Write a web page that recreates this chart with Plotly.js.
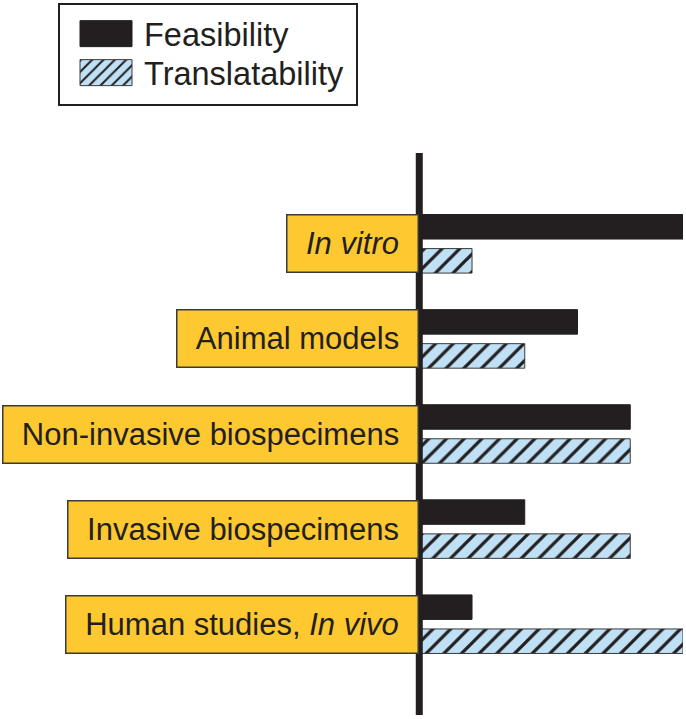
<!DOCTYPE html>
<html>
<head>
<meta charset="utf-8">
<script src="https://cdn.plot.ly/plotly-3.0.1.min.js"></script>
<style>html,body{margin:0;padding:0;background:#fff}</style>
</head>
<body>
<div id="chart" style="width:686px;height:719px"></div>
<script>
// data (relative scale, 0-5)
const categories = ['In vitro', 'Animal models', 'Non-invasive biospecimens', 'Invasive biospecimens', 'Human studies, In vivo'];
const labels = ['<i>In vitro</i>', 'Animal models', 'Non-invasive biospecimens', 'Invasive biospecimens', 'Human studies, <i>In vivo</i>'];
const feasibility = [5, 3, 4, 2, 1];
const translatability = [1, 2, 4, 4, 5];

const FONT = 'Liberation Sans, Arial, sans-serif';
const INK = '#231f20';
const LABEL_SIZE = 31;

// width of the label box = text width + side padding
const ctx = document.createElement('canvas').getContext('2d');
function labelWidth(html) {
    let w = 0;
    html.split(/(<i>.*?<\/i>)/).forEach(part => {
        if (!part) return;
        const italic = part.startsWith('<i>');
        ctx.font = (italic ? 'italic ' : '') + LABEL_SIZE + 'px "Liberation Sans"';
        w += ctx.measureText(part.replace(/<\/?i>/g, '')).width;
    });
    return w;
}

const traces = [
    {
        type: 'bar', orientation: 'h', name: 'Feasibility',
        x: feasibility, y: categories,
        marker: { color: INK, line: { color: INK, width: 1 } },
        hoverinfo: 'skip'
    },
    {
        type: 'bar', orientation: 'h', name: 'Translatability',
        x: translatability, y: categories,
        marker: {
            color: '#c0e1f5',
            line: { color: '#3a3a3a', width: 1 },
            pattern: { shape: '/', fgcolor: INK, bgcolor: '#c0e1f5', size: 12.5, solidity: 0.26 }
        },
        hoverinfo: 'skip'
    }
];

const annotations = categories.map((c, i) => ({
    xref: 'x', yref: 'y', x: 0, y: c,
    xanchor: 'right', yanchor: 'middle', xshift: 0,
    text: labels[i],
    showarrow: false,
    font: { family: FONT, size: LABEL_SIZE, color: INK },
    bgcolor: '#fdc830',
    bordercolor: '#3a3a3a', borderwidth: 1.5, borderpad: 0,
    width: Math.round(labelWidth(labels[i]) + 40 - 3),
    height: 56
}));

const layout = {
    width: 686, height: 719,
    margin: { l: 414, r: 3, t: 153, b: 4 },
    paper_bgcolor: '#fff', plot_bgcolor: '#fff',
    font: { family: FONT, color: INK },
    barmode: 'group', bargap: 0.284, bargroupgap: 0.28,
    xaxis: { range: [-0.1, 5], visible: false },
    yaxis: {
        type: 'category', categoryorder: 'array', categoryarray: categories,
        range: [4.955, -0.955], visible: false
    },
    showlegend: true,
    legend: {
        xref: 'container', yref: 'container',
        x: 58 / 686, y: 1 - 3 / 719, xanchor: 'left', yanchor: 'top',
        bgcolor: '#fff', bordercolor: INK, borderwidth: 2,
        font: { family: FONT, size: 32.5, color: INK },
        itemwidth: 74, tracegroupgap: 0
    },
    annotations: annotations,
    shapes: [{
        type: 'line', xref: 'x', yref: 'paper', x0: 0, x1: 0, y0: 0, y1: 1,
        line: { color: INK, width: 7 }, layer: 'above'
    }]
};

// legend tweaks: bigger swatches, tighter rows, box sized like the original
function tweakLegend() {
    const leg = document.querySelector('#chart .legend');
    if (!leg || leg.dataset.done) return;
    leg.dataset.done = '1';
    leg.querySelectorAll('.legendpoints path').forEach(p => {
        p.setAttribute('d', 'M30,13H-22V-13H30Z');
    });
    const items = leg.querySelectorAll('g.traces');
    let y0 = null;
    items.forEach((g, i) => {
        const m = /translate\(([-\d.]+)[ ,]+([-\d.]+)\)/.exec(g.getAttribute('transform') || '');
        if (!m) return;
        if (y0 === null) y0 = parseFloat(m[2]) + 1;
        g.setAttribute('transform', `translate(${m[1]},${y0 + i * 39})`);
    });
    const bg = leg.querySelector('rect.bg');
    if (bg) {
        const w = parseFloat(bg.getAttribute('width'));
        const h = parseFloat(bg.getAttribute('height'));
        const x = parseFloat(bg.getAttribute('x') || 0);
        const box = leg.getBoundingClientRect();
        bg.setAttribute('width', w + (357 - (box.left + w + x)) + 1);
        bg.setAttribute('height', h - 2);
    }
}

Plotly.newPlot('chart', traces, layout, { displayModeBar: false, staticPlot: true }).then(() => {
    tweakLegend();
});
</script>
</body>
</html>
